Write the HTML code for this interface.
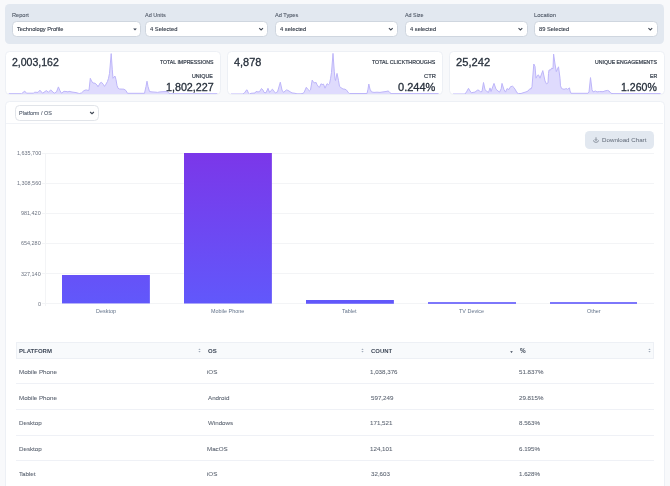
<!DOCTYPE html>
<html><head><meta charset="utf-8"><style>
html,body{margin:0;padding:0;background:#f8f9fb;}
body{width:670px;height:486px;overflow:hidden;background:#f8f9fb;position:relative;font-family:"Liberation Sans",sans-serif;}
.t{position:absolute;white-space:nowrap;line-height:1;will-change:transform;}
.panel{position:absolute;background:#e2e8f0;border-radius:4.5px;}
.sel{position:absolute;background:#fff;border:0.8px solid #cfd6df;border-radius:4.5px;box-sizing:border-box;}
.sel2{position:absolute;background:#fff;border:0.8px solid #e1e4e9;border-radius:4.5px;box-sizing:border-box;}
.card{position:absolute;background:#fff;border:0.8px solid #edf0f5;border-radius:4.5px;box-sizing:border-box;overflow:hidden;}
.ic{position:absolute;}
.bar{position:absolute;background:linear-gradient(180deg,#7b37e9 0%,#6158fb 100%);background-size:100% 150.5px;background-position:bottom;background-repeat:no-repeat;}
</style></head><body><div id="root" style="position:absolute;left:0;top:0;width:670px;height:486px;">
<div class="panel" style="left:5px;top:4px;width:659px;height:40.2px;"></div>
<div class="sel" style="left:12.3px;top:20.9px;width:128.3px;height:16.2px;"></div>
<svg class="ic" style="left:132.8px;top:27.7px" width="4" height="3" viewBox="0 0 4 3"><path d="M0.2 0.4H3.8L2 2.5Z" fill="#374151"/></svg>
<div class="sel" style="left:145.4px;top:20.9px;width:123.0px;height:16.2px;"></div>
<svg class="ic" style="left:258px;top:27px" width="7" height="5" viewBox="0 0 7 5"><path d="M1.20 1.20L3.10 2.90L5.00 1.20" fill="none" stroke="#3f4754" stroke-width="1.1"/></svg>
<div class="sel" style="left:275.2px;top:20.9px;width:122.9px;height:16.2px;"></div>
<svg class="ic" style="left:387px;top:27px" width="7" height="5" viewBox="0 0 7 5"><path d="M1.90 1.20L3.80 2.90L5.70 1.20" fill="none" stroke="#3f4754" stroke-width="1.1"/></svg>
<div class="sel" style="left:405px;top:20.9px;width:122.7px;height:16.2px;"></div>
<svg class="ic" style="left:517px;top:27px" width="7" height="5" viewBox="0 0 7 5"><path d="M1.50 1.20L3.40 2.90L5.30 1.20" fill="none" stroke="#3f4754" stroke-width="1.1"/></svg>
<div class="sel" style="left:534.3px;top:20.9px;width:123.3px;height:16.2px;"></div>
<svg class="ic" style="left:647px;top:27px" width="7" height="5" viewBox="0 0 7 5"><path d="M1.40 1.20L3.30 2.90L5.20 1.20" fill="none" stroke="#3f4754" stroke-width="1.1"/></svg>
<div class="card" style="left:5.0px;top:51.2px;width:216.00px;height:43.50px;"><svg width="216.00" height="43.50" style="position:absolute;left:-0.8px;top:-0.8px;overflow:visible"><polygon points="-1,44.5 3.80,42.70 16.60,42.70 19.70,40.10 21.50,42.20 28.60,42.20 29.50,41.20 33.00,41.40 34.90,39.20 37.60,42.20 41.40,39.60 43.40,41.30 45.70,38.90 49.20,42.20 51.50,40.90 53.40,35.90 55.00,39.80 56.50,42.20 59.00,40.30 62.00,40.60 63.00,41.00 64.00,40.30 67.00,41.00 71.00,41.60 73.50,42.30 74.50,42.50 76.50,41.90 79.00,39.60 81.00,38.90 83.00,39.40 84.00,39.20 85.30,27.30 86.50,30.00 88.00,32.00 90.00,32.20 92.00,34.00 93.00,35.80 95.30,31.80 96.50,31.30 98.50,33.60 99.50,35.40 101.00,33.10 102.50,30.40 103.50,27.30 104.50,22.40 106.20,2.60 107.30,18.80 108.00,27.30 109.00,26.00 110.00,25.10 111.00,28.60 112.00,34.50 113.00,37.20 114.50,38.00 119.00,38.20 121.00,39.60 122.50,42.30 139.50,42.30 141.00,35.50 142.00,30.20 143.00,35.50 144.50,40.50 147.00,40.90 151.00,41.20 152.50,41.40 155.00,40.90 158.00,40.70 161.00,40.50 162.00,40.20 163.50,41.80 165.00,42.70 212.30,42.70 217.0,44.5" fill="#dfdbfd"/><polyline points="3.80,42.70 16.60,42.70 19.70,40.10 21.50,42.20 28.60,42.20 29.50,41.20 33.00,41.40 34.90,39.20 37.60,42.20 41.40,39.60 43.40,41.30 45.70,38.90 49.20,42.20 51.50,40.90 53.40,35.90 55.00,39.80 56.50,42.20 59.00,40.30 62.00,40.60 63.00,41.00 64.00,40.30 67.00,41.00 71.00,41.60 73.50,42.30 74.50,42.50 76.50,41.90 79.00,39.60 81.00,38.90 83.00,39.40 84.00,39.20 85.30,27.30 86.50,30.00 88.00,32.00 90.00,32.20 92.00,34.00 93.00,35.80 95.30,31.80 96.50,31.30 98.50,33.60 99.50,35.40 101.00,33.10 102.50,30.40 103.50,27.30 104.50,22.40 106.20,2.60 107.30,18.80 108.00,27.30 109.00,26.00 110.00,25.10 111.00,28.60 112.00,34.50 113.00,37.20 114.50,38.00 119.00,38.20 121.00,39.60 122.50,42.30 139.50,42.30 141.00,35.50 142.00,30.20 143.00,35.50 144.50,40.50 147.00,40.90 151.00,41.20 152.50,41.40 155.00,40.90 158.00,40.70 161.00,40.50 162.00,40.20 163.50,41.80 165.00,42.70 212.30,42.70" fill="none" stroke="#bdb5f9" stroke-width="1" stroke-linejoin="round"/></svg></div>
<div class="card" style="left:227.0px;top:51.2px;width:216.00px;height:43.50px;"><svg width="216.00" height="43.50" style="position:absolute;left:-0.8px;top:-0.8px;overflow:visible"><polygon points="-1,44.5 4.00,43.00 16.00,43.00 17.50,41.80 19.50,39.10 20.00,38.70 21.50,42.30 22.50,43.00 24.00,42.30 28.00,42.00 29.00,40.50 31.00,40.90 32.50,40.70 34.50,37.50 36.00,39.10 37.00,41.40 39.00,41.80 41.00,37.30 42.50,41.40 43.50,40.00 45.50,38.20 47.00,40.50 48.50,41.80 50.50,40.90 53.30,31.20 55.00,39.10 56.50,41.40 59.50,38.90 61.00,39.40 63.00,40.70 65.00,41.90 68.00,42.30 70.00,42.80 74.00,42.80 76.00,42.30 77.00,41.60 79.30,36.30 80.50,38.00 82.50,39.80 83.50,38.90 85.20,29.10 86.50,31.30 88.00,32.00 89.00,31.30 90.00,33.60 91.50,35.80 92.50,36.30 94.00,32.70 95.00,33.60 96.50,33.10 98.00,37.20 100.00,32.70 101.50,33.60 102.50,32.70 103.50,27.80 104.50,21.50 106.00,2.40 107.30,20.80 108.00,27.80 108.50,29.50 110.00,22.40 111.50,29.50 112.50,35.40 114.00,36.70 116.00,38.00 118.00,38.20 119.50,39.10 121.50,41.80 122.50,42.50 140.00,42.50 141.00,38.20 141.80,33.00 143.00,38.20 144.50,40.90 147.00,41.40 150.00,41.20 153.00,41.40 156.00,40.90 159.00,40.50 161.00,40.00 162.00,40.50 163.00,41.80 164.00,42.60 211.50,42.60 217.0,44.5" fill="#dfdbfd"/><polyline points="4.00,43.00 16.00,43.00 17.50,41.80 19.50,39.10 20.00,38.70 21.50,42.30 22.50,43.00 24.00,42.30 28.00,42.00 29.00,40.50 31.00,40.90 32.50,40.70 34.50,37.50 36.00,39.10 37.00,41.40 39.00,41.80 41.00,37.30 42.50,41.40 43.50,40.00 45.50,38.20 47.00,40.50 48.50,41.80 50.50,40.90 53.30,31.20 55.00,39.10 56.50,41.40 59.50,38.90 61.00,39.40 63.00,40.70 65.00,41.90 68.00,42.30 70.00,42.80 74.00,42.80 76.00,42.30 77.00,41.60 79.30,36.30 80.50,38.00 82.50,39.80 83.50,38.90 85.20,29.10 86.50,31.30 88.00,32.00 89.00,31.30 90.00,33.60 91.50,35.80 92.50,36.30 94.00,32.70 95.00,33.60 96.50,33.10 98.00,37.20 100.00,32.70 101.50,33.60 102.50,32.70 103.50,27.80 104.50,21.50 106.00,2.40 107.30,20.80 108.00,27.80 108.50,29.50 110.00,22.40 111.50,29.50 112.50,35.40 114.00,36.70 116.00,38.00 118.00,38.20 119.50,39.10 121.50,41.80 122.50,42.50 140.00,42.50 141.00,38.20 141.80,33.00 143.00,38.20 144.50,40.90 147.00,41.40 150.00,41.20 153.00,41.40 156.00,40.90 159.00,40.50 161.00,40.00 162.00,40.50 163.00,41.80 164.00,42.60 211.50,42.60" fill="none" stroke="#bdb5f9" stroke-width="1" stroke-linejoin="round"/></svg></div>
<div class="card" style="left:449.0px;top:51.2px;width:216.00px;height:43.50px;"><svg width="216.00" height="43.50" style="position:absolute;left:-0.8px;top:-0.8px;overflow:visible"><polygon points="-1,44.5 4.00,43.00 16.00,43.00 17.50,40.90 19.50,37.30 21.00,40.00 22.50,41.80 24.00,41.40 26.00,41.10 28.50,39.10 30.00,39.30 31.50,40.90 33.00,40.50 34.50,31.50 36.00,38.70 38.00,40.50 39.50,41.40 41.00,36.90 42.00,40.50 45.00,32.40 47.00,38.20 49.00,40.00 50.50,41.10 52.20,37.80 53.00,32.40 55.00,38.70 56.50,41.10 58.00,37.60 59.00,38.10 60.00,38.50 61.50,35.70 63.50,35.20 65.00,36.60 66.50,39.00 68.00,41.80 69.50,42.50 72.00,42.50 74.00,41.80 77.00,40.90 79.00,40.00 81.00,37.60 82.00,38.10 83.00,35.70 84.80,13.00 86.00,15.40 87.00,27.20 88.50,24.30 89.50,23.90 91.00,27.20 93.80,19.60 96.00,30.00 97.50,32.90 99.00,31.90 99.50,22.50 100.00,19.10 102.00,18.70 102.50,17.20 104.00,17.70 104.60,3.10 106.00,13.00 107.30,20.60 109.50,15.80 111.00,27.20 111.50,34.80 112.50,37.40 113.50,37.80 115.00,38.30 116.50,37.80 117.00,37.40 118.50,38.30 120.50,36.90 121.00,40.00 122.00,42.30 139.00,42.30 140.00,40.90 141.50,26.60 143.00,38.70 144.00,40.90 146.50,40.00 148.00,40.90 150.50,40.50 154.00,40.70 156.00,39.90 158.50,39.40 160.00,40.00 162.00,42.30 164.00,42.60 211.50,42.60 217.0,44.5" fill="#dfdbfd"/><polyline points="4.00,43.00 16.00,43.00 17.50,40.90 19.50,37.30 21.00,40.00 22.50,41.80 24.00,41.40 26.00,41.10 28.50,39.10 30.00,39.30 31.50,40.90 33.00,40.50 34.50,31.50 36.00,38.70 38.00,40.50 39.50,41.40 41.00,36.90 42.00,40.50 45.00,32.40 47.00,38.20 49.00,40.00 50.50,41.10 52.20,37.80 53.00,32.40 55.00,38.70 56.50,41.10 58.00,37.60 59.00,38.10 60.00,38.50 61.50,35.70 63.50,35.20 65.00,36.60 66.50,39.00 68.00,41.80 69.50,42.50 72.00,42.50 74.00,41.80 77.00,40.90 79.00,40.00 81.00,37.60 82.00,38.10 83.00,35.70 84.80,13.00 86.00,15.40 87.00,27.20 88.50,24.30 89.50,23.90 91.00,27.20 93.80,19.60 96.00,30.00 97.50,32.90 99.00,31.90 99.50,22.50 100.00,19.10 102.00,18.70 102.50,17.20 104.00,17.70 104.60,3.10 106.00,13.00 107.30,20.60 109.50,15.80 111.00,27.20 111.50,34.80 112.50,37.40 113.50,37.80 115.00,38.30 116.50,37.80 117.00,37.40 118.50,38.30 120.50,36.90 121.00,40.00 122.00,42.30 139.00,42.30 140.00,40.90 141.50,26.60 143.00,38.70 144.00,40.90 146.50,40.00 148.00,40.90 150.50,40.50 154.00,40.70 156.00,39.90 158.50,39.40 160.00,40.00 162.00,42.30 164.00,42.60 211.50,42.60" fill="none" stroke="#bdb5f9" stroke-width="1" stroke-linejoin="round"/></svg></div>
<div class="card" style="left:5px;top:101px;width:660px;height:400px;"></div>
<div style="position:absolute;left:6.4px;top:123.2px;width:657px;height:1px;background:#f1f3f7"></div>
<div class="sel2" style="left:15.4px;top:105.1px;width:83.3px;height:15.5px;"></div>
<svg class="ic" style="left:89px;top:110px" width="7" height="5" viewBox="0 0 7 5"><path d="M1.10 2.00L3.00 3.70L4.90 2.00" fill="none" stroke="#3f4754" stroke-width="1.1"/></svg>
<div style="position:absolute;left:585.1px;top:130.9px;width:69.3px;height:18px;background:#e2e8f0;border-radius:4.5px"></div>
<svg class="ic" style="left:592.8px;top:136.6px" width="6" height="6" viewBox="0 0 6 6"><path d="M3 0.3V3.4M1.8 2.3L3 3.5L4.2 2.3M0.5 3.3C0.6 4.6 1.4 5.3 3 5.3C4.6 5.3 5.4 4.6 5.5 3.3" fill="none" stroke="#656e7c" stroke-width="0.7"/></svg>
<div style="position:absolute;left:42.2px;top:152.7px;width:612.3px;height:1px;background:#f3f4f6"></div>
<div style="position:absolute;left:42.2px;top:182.8px;width:612.3px;height:1px;background:#f3f4f6"></div>
<div style="position:absolute;left:42.2px;top:212.9px;width:612.3px;height:1px;background:#f3f4f6"></div>
<div style="position:absolute;left:42.2px;top:243.0px;width:612.3px;height:1px;background:#f3f4f6"></div>
<div style="position:absolute;left:42.2px;top:273.1px;width:612.3px;height:1px;background:#f3f4f6"></div>
<div style="position:absolute;left:42.2px;top:303.2px;width:612.3px;height:1px;background:#f3f4f6"></div>
<div style="position:absolute;left:44.55px;top:153.2px;width:1px;height:153.3px;background:#f3f4f6"></div>
<div class="bar" style="left:62.11px;top:275.27px;width:87.76px;height:28.43px;"></div>
<div class="bar" style="left:184.00px;top:153.20px;width:87.76px;height:150.50px;"></div>
<div class="bar" style="left:305.89px;top:299.93px;width:87.76px;height:3.77px;"></div>
<div style="position:absolute;left:427.78px;top:302.3px;width:87.76px;height:1.7px;background:#7d77fb"></div>
<div style="position:absolute;left:549.67px;top:302.3px;width:87.76px;height:1.7px;background:#7d77fb"></div>
<div style="position:absolute;left:15.6px;top:342.1px;width:638.5px;height:16.8px;background:#f8fafc;border:0.8px solid #edf0f5;box-sizing:border-box"></div>
<svg class="ic" style="left:198.0px;top:348.4px" width="3" height="5" viewBox="0 0 3 5"><path d="M0.3 2L1.5 0.4L2.7 2ZM0.3 3L1.5 4.6L2.7 3Z" fill="#a3adbb"/></svg>
<svg class="ic" style="left:361.1px;top:348.4px" width="3" height="5" viewBox="0 0 3 5"><path d="M0.3 2L1.5 0.4L2.7 2ZM0.3 3L1.5 4.6L2.7 3Z" fill="#a3adbb"/></svg>
<svg class="ic" style="left:648.0px;top:348.4px" width="3" height="5" viewBox="0 0 3 5"><path d="M0.3 2L1.5 0.4L2.7 2ZM0.3 3L1.5 4.6L2.7 3Z" fill="#a3adbb"/></svg>
<svg class="ic" style="left:509.7px;top:351.0px" width="3" height="2.5" viewBox="0 0 3 2.5"><path d="M0.2 0.3L1.5 2L2.8 0.3Z" fill="#364152"/></svg>
<div style="position:absolute;left:15.6px;top:383.3px;width:638.5px;height:1px;background:#eff1f6"></div>
<div style="position:absolute;left:15.6px;top:408.9px;width:638.5px;height:1px;background:#eff1f6"></div>
<div style="position:absolute;left:15.6px;top:434.5px;width:638.5px;height:1px;background:#eff1f6"></div>
<div style="position:absolute;left:15.6px;top:460.1px;width:638.5px;height:1px;background:#eff1f6"></div>
<div class="t" style="left:11.75px;top:13px;font-size:5.64px;color:#4f5866;font-weight:400;-webkit-text-stroke:0.1px #4f5866;">Report</div>
<div class="t" style="left:145.40px;top:13px;font-size:5.51px;color:#4f5866;font-weight:400;-webkit-text-stroke:0.1px #4f5866;">Ad Units</div>
<div class="t" style="left:275.10px;top:13px;font-size:5.6px;color:#4f5866;font-weight:400;-webkit-text-stroke:0.1px #4f5866;">Ad Types</div>
<div class="t" style="left:404.90px;top:13px;font-size:5.38px;color:#4f5866;font-weight:400;-webkit-text-stroke:0.1px #4f5866;">Ad Size</div>
<div class="t" style="left:533.83px;top:13px;font-size:5.85px;color:#4f5866;font-weight:400;-webkit-text-stroke:0.1px #4f5866;">Location</div>
<div class="t" style="left:17.49px;top:27px;font-size:5.68px;color:#333b48;font-weight:400;-webkit-text-stroke:0.12px #333b48;">Technology Profile</div>
<div class="t" style="left:149.88px;top:27px;font-size:5.8px;color:#333b48;font-weight:400;-webkit-text-stroke:0.12px #333b48;">4 Selected</div>
<div class="t" style="left:279.88px;top:27px;font-size:5.77px;color:#333b48;font-weight:400;-webkit-text-stroke:0.12px #333b48;">4 selected</div>
<div class="t" style="left:409.69px;top:27px;font-size:5.73px;color:#333b48;font-weight:400;-webkit-text-stroke:0.12px #333b48;">4 selected</div>
<div class="t" style="left:538.77px;top:27px;font-size:5.73px;color:#333b48;font-weight:400;-webkit-text-stroke:0.12px #333b48;">89 Selected</div>
<div class="t" style="left:12.07px;top:57px;font-size:10.53px;color:#27303c;font-weight:400;-webkit-text-stroke:0.3px #27303c;">2,003,162</div>
<div class="t" style="left:160.00px;top:60px;font-size:5.18px;color:#353e4b;font-weight:400;-webkit-text-stroke:0.2px #353e4b;">TOTAL IMPRESSIONS</div>
<div class="t" style="left:191.86px;top:74px;font-size:5.36px;color:#353e4b;font-weight:400;-webkit-text-stroke:0.2px #353e4b;">UNIQUE</div>
<div class="t" style="left:166.03px;top:82px;font-size:10.72px;color:#27303c;font-weight:400;-webkit-text-stroke:0.3px #27303c;">1,802,227</div>
<div class="t" style="left:234.28px;top:57px;font-size:10.94px;color:#27303c;font-weight:400;-webkit-text-stroke:0.3px #27303c;">4,878</div>
<div class="t" style="left:372.25px;top:60px;font-size:5.25px;color:#353e4b;font-weight:400;-webkit-text-stroke:0.2px #353e4b;">TOTAL CLICKTHROUGHS</div>
<div class="t" style="left:423.62px;top:74px;font-size:5.79px;color:#353e4b;font-weight:400;-webkit-text-stroke:0.2px #353e4b;">CTR</div>
<div class="t" style="left:397.57px;top:82px;font-size:11.02px;color:#27303c;font-weight:400;-webkit-text-stroke:0.3px #27303c;">0.244%</div>
<div class="t" style="left:455.64px;top:57px;font-size:11.15px;color:#27303c;font-weight:400;-webkit-text-stroke:0.3px #27303c;">25,242</div>
<div class="t" style="left:595.04px;top:60px;font-size:5.19px;color:#353e4b;font-weight:400;-webkit-text-stroke:0.2px #353e4b;">UNIQUE ENGAGEMENTS</div>
<div class="t" style="left:649.78px;top:74px;font-size:5.24px;color:#353e4b;font-weight:400;-webkit-text-stroke:0.2px #353e4b;">ER</div>
<div class="t" style="left:620.95px;top:82px;font-size:10.55px;color:#27303c;font-weight:400;-webkit-text-stroke:0.3px #27303c;">1.260%</div>
<div class="t" style="left:19.16px;top:111px;font-size:5.49px;color:#566070;font-weight:400;-webkit-text-stroke:0.1px #566070;">Platform / OS</div>
<div class="t" style="left:601.50px;top:137px;font-size:6.19px;color:#5f6876;font-weight:400;">Download Chart</div>
<div class="t" style="left:16.67px;top:151px;font-size:5.45px;color:#6b7280;font-weight:400;">1,635,700</div>
<div class="t" style="left:16.67px;top:181px;font-size:5.45px;color:#6b7280;font-weight:400;">1,308,560</div>
<div class="t" style="left:21.24px;top:211px;font-size:5.45px;color:#6b7280;font-weight:400;">981,420</div>
<div class="t" style="left:21.24px;top:241px;font-size:5.45px;color:#6b7280;font-weight:400;">654,280</div>
<div class="t" style="left:21.24px;top:272px;font-size:5.45px;color:#6b7280;font-weight:400;">327,140</div>
<div class="t" style="left:37.87px;top:302px;font-size:5.45px;color:#6b7280;font-weight:400;">0</div>
<div class="t" style="left:95.89px;top:309px;font-size:5.45px;color:#64748b;font-weight:400;">Desktop</div>
<div class="t" style="left:211.13px;top:309px;font-size:5.45px;color:#64748b;font-weight:400;">Mobile Phone</div>
<div class="t" style="left:342.47px;top:309px;font-size:5.45px;color:#64748b;font-weight:400;">Tablet</div>
<div class="t" style="left:459.16px;top:309px;font-size:5.45px;color:#64748b;font-weight:400;">TV Device</div>
<div class="t" style="left:586.66px;top:309px;font-size:5.45px;color:#64748b;font-weight:400;">Other</div>
<div class="t" style="left:19.18px;top:348px;font-size:6.01px;color:#3d4757;font-weight:700;">PLATFORM</div>
<div class="t" style="left:207.56px;top:348px;font-size:6.03px;color:#3d4757;font-weight:700;">OS</div>
<div class="t" style="left:370.66px;top:349px;font-size:5.93px;color:#3d4757;font-weight:700;">COUNT</div>
<div class="t" style="left:519.51px;top:348px;font-size:6.39px;color:#3d4757;font-weight:700;">%</div>
<div class="t" style="left:19.00px;top:369px;font-size:6.2px;color:#5d6572;font-weight:400;-webkit-text-stroke:0.08px #5d6572;">Mobile Phone</div>
<div class="t" style="left:207.37px;top:369px;font-size:6.2px;color:#5d6572;font-weight:400;-webkit-text-stroke:0.08px #5d6572;">iOS</div>
<div class="t" style="left:370.40px;top:369px;font-size:6.2px;color:#5d6572;font-weight:400;-webkit-text-stroke:0.08px #5d6572;">1,038,376</div>
<div class="t" style="left:519.45px;top:369px;font-size:6.2px;color:#5d6572;font-weight:400;-webkit-text-stroke:0.08px #5d6572;">51.837%</div>
<div class="t" style="left:19.00px;top:395px;font-size:6.2px;color:#5d6572;font-weight:400;-webkit-text-stroke:0.08px #5d6572;">Mobile Phone</div>
<div class="t" style="left:207.80px;top:395px;font-size:6.2px;color:#5d6572;font-weight:400;-webkit-text-stroke:0.08px #5d6572;">Android</div>
<div class="t" style="left:370.65px;top:395px;font-size:6.2px;color:#5d6572;font-weight:400;-webkit-text-stroke:0.08px #5d6572;">597,249</div>
<div class="t" style="left:519.39px;top:395px;font-size:6.2px;color:#5d6572;font-weight:400;-webkit-text-stroke:0.08px #5d6572;">29.815%</div>
<div class="t" style="left:19.00px;top:420px;font-size:6.2px;color:#5d6572;font-weight:400;-webkit-text-stroke:0.08px #5d6572;">Desktop</div>
<div class="t" style="left:207.74px;top:420px;font-size:6.2px;color:#5d6572;font-weight:400;-webkit-text-stroke:0.08px #5d6572;">Windows</div>
<div class="t" style="left:370.40px;top:420px;font-size:6.2px;color:#5d6572;font-weight:400;-webkit-text-stroke:0.08px #5d6572;">171,521</div>
<div class="t" style="left:519.45px;top:420px;font-size:6.2px;color:#5d6572;font-weight:400;-webkit-text-stroke:0.08px #5d6572;">8.563%</div>
<div class="t" style="left:19.00px;top:446px;font-size:6.2px;color:#5d6572;font-weight:400;-webkit-text-stroke:0.08px #5d6572;">Desktop</div>
<div class="t" style="left:207.30px;top:446px;font-size:6.2px;color:#5d6572;font-weight:400;-webkit-text-stroke:0.08px #5d6572;">MacOS</div>
<div class="t" style="left:370.40px;top:446px;font-size:6.2px;color:#5d6572;font-weight:400;-webkit-text-stroke:0.08px #5d6572;">124,101</div>
<div class="t" style="left:519.39px;top:446px;font-size:6.2px;color:#5d6572;font-weight:400;-webkit-text-stroke:0.08px #5d6572;">6.195%</div>
<div class="t" style="left:19.38px;top:471px;font-size:6.2px;color:#5d6572;font-weight:400;-webkit-text-stroke:0.08px #5d6572;">Tablet</div>
<div class="t" style="left:207.37px;top:471px;font-size:6.2px;color:#5d6572;font-weight:400;-webkit-text-stroke:0.08px #5d6572;">iOS</div>
<div class="t" style="left:370.65px;top:471px;font-size:6.2px;color:#5d6572;font-weight:400;-webkit-text-stroke:0.08px #5d6572;">32,603</div>
<div class="t" style="left:519.20px;top:471px;font-size:6.2px;color:#5d6572;font-weight:400;-webkit-text-stroke:0.08px #5d6572;">1.628%</div>
</div></body></html>
